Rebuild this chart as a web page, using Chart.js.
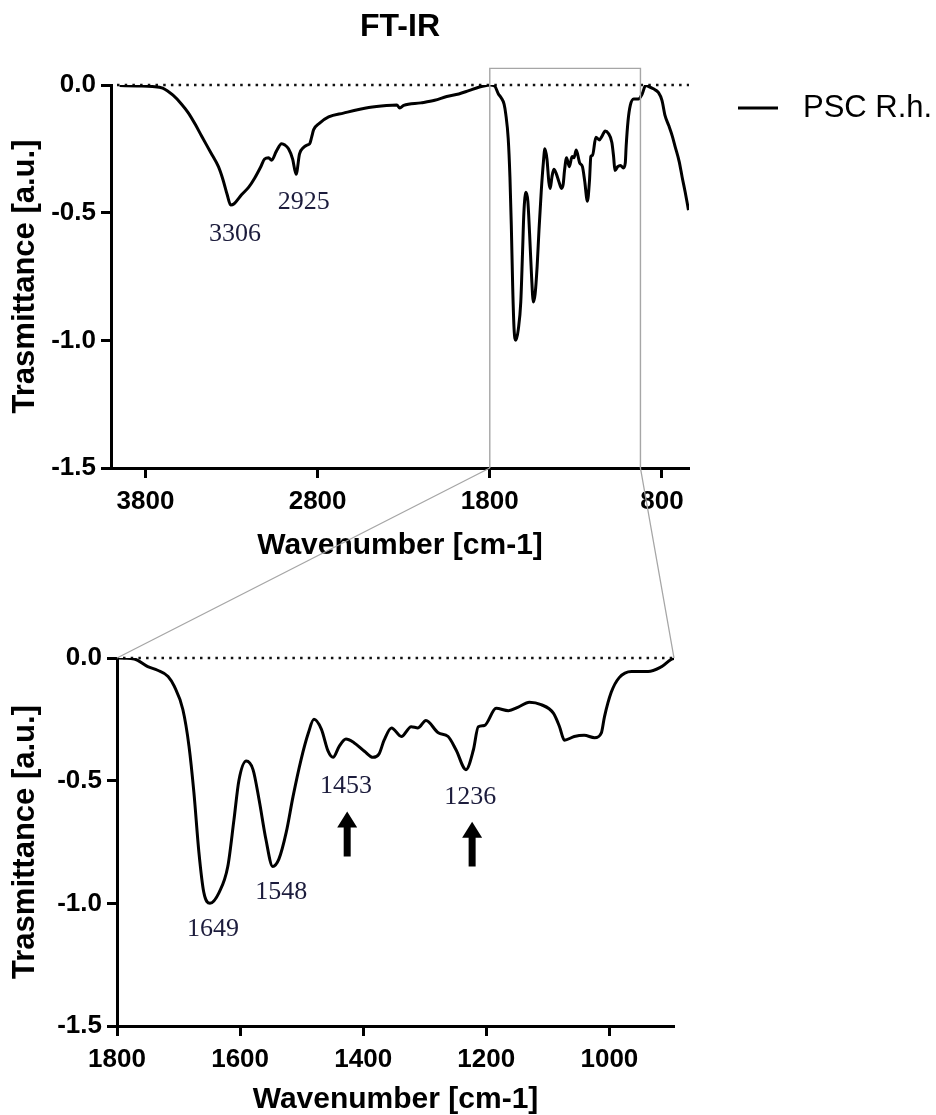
<!DOCTYPE html>
<html lang="en">
<head>
<meta charset="UTF-8">
<title>FT-IR</title>
<script src="https://cdn.jsdelivr.net/npm/chart.js@4"></script>
<style>
  body { margin: 0; background: #fff; }
  #wrap { position: relative; width: 936px; height: 1115px; }
  canvas { position: absolute; left: 0; }
  #topChart { top: 0; }
  #zoomChart { top: 580px; }
  #links { top: 0; pointer-events: none; }
</style>
</head>
<body>
<div id="wrap">
  <canvas id="topChart" width="936" height="580"></canvas>
  <canvas id="zoomChart" width="936" height="535"></canvas>
  <canvas id="links" width="936" height="1115"></canvas>
</div>
<script>
// spectrum (cm-1, a.u.)
const seriesName = 'PSC R.h.';
const wavenumbers = [
  3950, 3850, 3760, 3700, 3640, 3590, 3550, 3510, 3474, 3420, 3376, 3350, 3325, 3305, 3285,
  3242, 3200, 3166, 3130, 3108, 3085, 3067, 3040, 3009, 2990, 2969, 2945, 2925, 2905, 2882,
  2860, 2846, 2835, 2823, 2790, 2736, 2650, 2503, 2400, 2340, 2323, 2300, 2200, 2120, 2050,
  1980, 1922, 1860, 1820, 1800,
  1772, 1750, 1734, 1717, 1707, 1693, 1683, 1675, 1667, 1659, 1649, 1634, 1620, 1610, 1602,
  1590, 1579, 1569, 1558, 1547, 1537, 1525, 1514, 1501, 1489, 1480, 1468, 1457, 1449, 1439,
  1428, 1415, 1398, 1384, 1374, 1366, 1354, 1338, 1322, 1311, 1298, 1278, 1262, 1249, 1233,
  1221, 1213, 1203, 1184, 1164, 1148, 1130, 1111, 1091, 1081, 1073, 1057, 1041, 1024, 1013,
  1008, 997, 984, 964, 937, 915, 895,
  880, 850, 820, 800, 782, 760, 740, 724, 700, 683, 665, 646
];
const transmittance = [
  -0.002, -0.004, -0.006, -0.012, -0.04, -0.075, -0.11, -0.155, -0.2, -0.265, -0.32, -0.37, -0.43, -0.47, -0.465,
  -0.43, -0.40, -0.365, -0.32, -0.29, -0.285, -0.295, -0.26, -0.23, -0.235, -0.25, -0.29, -0.35, -0.27, -0.245,
  -0.235, -0.23, -0.205, -0.175, -0.15, -0.125, -0.11, -0.088, -0.08, -0.078, -0.09, -0.08, -0.07, -0.06, -0.045,
  -0.035, -0.022, -0.008, -0.002, 0.0,
  -0.004, -0.035, -0.05, -0.075, -0.115, -0.21, -0.36, -0.55, -0.79, -0.955, -1.0, -0.955, -0.85, -0.66, -0.5,
  -0.42, -0.455, -0.58, -0.74, -0.85, -0.82, -0.71, -0.565, -0.415, -0.305, -0.25, -0.29, -0.38, -0.405, -0.36,
  -0.33, -0.345, -0.38, -0.405, -0.39, -0.335, -0.285, -0.32, -0.28, -0.285, -0.255, -0.305, -0.32, -0.375, -0.455,
  -0.375, -0.28, -0.275, -0.205, -0.215, -0.2, -0.18, -0.19, -0.225, -0.28, -0.335, -0.32, -0.315, -0.325, -0.305,
  -0.24, -0.14, -0.08, -0.055, -0.055, -0.035, -0.002,
  -0.005, -0.015, -0.03, -0.06, -0.12, -0.16, -0.2, -0.24, -0.3, -0.36, -0.42, -0.49
];

const fullTicks = [3800, 2800, 1800, 800];
const zoomTicks = [1800, 1600, 1400, 1200, 1000];
const yTicks = [0, -0.5, -1.0, -1.5];

const fullRange = [4000, 643];
const zoomRange = [1800, 895];
const zoomBox = [1800, 925];   // grey frame on the full spectrum

// peak labels and arrows, placed in data units
const fullPeaks = [
  { text: '3306', x: 3280, y: -0.585 },
  { text: '2925', x: 2881, y: -0.457 }
];
const zoomPeaks = [
  { text: '1649', x: 1644, y: -1.106 },
  { text: '1548', x: 1533, y: -0.955 },
  { text: '1453', x: 1428, y: -0.524 },
  { text: '1236', x: 1226, y: -0.569 }
];
const zoomArrows = [
  { x: 1426, from: -0.809, to: -0.626 },
  { x: 1223, from: -0.85, to: -0.667 }
];

Chart.defaults.font.family = "'Liberation Sans', Arial, sans-serif";
Chart.defaults.color = '#000';

const points = wavenumbers.map((w, i) => ({ x: w, y: transmittance[i] }));

// zero line, frame, labels, arrows, title, legend
const extras = {
  id: 'extras',
  beforeDatasetsDraw(chart) {
    const { ctx, chartArea, scales } = chart;
    const y0 = scales.y.getPixelForValue(0);
    ctx.save();
    ctx.strokeStyle = '#111';
    ctx.lineWidth = 2.5;
    ctx.setLineDash([2.5, 5.2]);
    ctx.beginPath();
    ctx.moveTo(chartArea.left + 6, y0);
    ctx.lineTo(chartArea.right, y0);
    ctx.stroke();
    ctx.restore();
  },
  afterDraw(chart, args, opts) {
    const { ctx, chartArea, scales } = chart;
    const sx = scales.x, sy = scales.y;
    ctx.save();
    if (opts.box) {
      const x1 = sx.getPixelForValue(opts.box[0]);
      const x2 = sx.getPixelForValue(opts.box[1]);
      const yt = sy.getPixelForValue(0.065);
      ctx.strokeStyle = '#a6a6a6';
      ctx.lineWidth = 1.4;
      ctx.beginPath();
      ctx.moveTo(x1, chartArea.bottom);
      ctx.lineTo(x1, yt);
      ctx.lineTo(x2, yt);
      ctx.lineTo(x2, chartArea.bottom);
      ctx.stroke();
    }
    ctx.font = "26px 'Liberation Serif', 'Times New Roman', serif";
    ctx.fillStyle = '#1c1c3c';
    ctx.textAlign = 'center';
    ctx.textBaseline = 'middle';
    (opts.peaks || []).forEach(p => {
      ctx.fillText(p.text, sx.getPixelForValue(p.x), sy.getPixelForValue(p.y));
    });
    ctx.fillStyle = '#000';
    (opts.arrows || []).forEach(a => {
      const x = sx.getPixelForValue(a.x);
      const yb = sy.getPixelForValue(a.from);
      const yt = sy.getPixelForValue(a.to);
      ctx.beginPath();
      ctx.moveTo(x, yt);
      ctx.lineTo(x + 10, yt + 16);
      ctx.lineTo(x + 3.5, yt + 16);
      ctx.lineTo(x + 3.5, yb);
      ctx.lineTo(x - 3.5, yb);
      ctx.lineTo(x - 3.5, yt + 16);
      ctx.lineTo(x - 10, yt + 16);
      ctx.closePath();
      ctx.fill();
    });
    if (opts.title) {
      ctx.font = "bold 32px 'Liberation Sans', Arial, sans-serif";
      ctx.fillText(opts.title, (chartArea.left + chartArea.right) / 2, 27);
    }
    if (opts.legend) {
      const ly = chartArea.top + 23;
      ctx.strokeStyle = '#000';
      ctx.lineWidth = 3;
      ctx.beginPath();
      ctx.moveTo(chartArea.right + 49, ly);
      ctx.lineTo(chartArea.right + 89, ly);
      ctx.stroke();
      ctx.font = "31px 'Liberation Sans', Arial, sans-serif";
      ctx.textAlign = 'left';
      ctx.fillText(chart.data.datasets[0].label, chartArea.right + 114, ly);
    }
    ctx.restore();
  }
};

function axisStyle() {
  return {
    grid: { drawOnChartArea: false, drawTicks: true, tickLength: 10, tickWidth: 3, tickColor: '#000' },
    border: { display: true, color: '#000', width: 3 }
  };
}

function makeChart(id, range, xTicks, xHeight, yWidth, padding, titlePad, plugOpts) {
  return new Chart(document.getElementById(id), {
    type: 'line',
    data: {
      datasets: [{
        label: seriesName,
        data: points,
        borderColor: '#000',
        borderWidth: 3,
        pointRadius: 0,
        cubicInterpolationMode: 'monotone'
      }]
    },
    options: {
      responsive: false,
      animation: false,
      layout: { padding: padding },
      plugins: { legend: { display: false }, tooltip: { enabled: false }, extras: plugOpts },
      scales: {
        x: Object.assign(axisStyle(), {
          type: 'linear',
          reverse: true,
          min: range[1],
          max: range[0],
          afterBuildTicks: s => { s.ticks = xTicks.map(v => ({ value: v })); },
          afterFit: s => { s.height = xHeight; },
          ticks: { font: { size: 26, weight: 'bold' }, padding: 8, maxRotation: 0, callback: v => String(v) },
          title: { display: true, text: 'Wavenumber [cm-1]', font: { size: 30, weight: 'bold', lineHeight: 1 }, padding: { top: 0, bottom: titlePad } }
        }),
        y: Object.assign(axisStyle(), {
          min: -1.5,
          max: 0,
          afterBuildTicks: s => { s.ticks = yTicks.map(v => ({ value: v })); },
          afterFit: s => { s.width = yWidth; },
          ticks: { font: { size: 26, weight: 'bold' }, padding: 5, callback: v => v.toFixed(1) },
          title: { display: true, text: 'Trasmittance [a.u.]', font: { size: 31, weight: 'bold', lineHeight: 1 }, padding: { top: 10, bottom: 0 } }
        })
      }
    },
    plugins: [extras]
  });
}

const topChart = makeChart('topChart', fullRange, fullTicks, 112, 111,
  { top: 85, right: 247, bottom: 0, left: 0 }, 19,
  { box: zoomBox, peaks: fullPeaks, title: 'FT-IR', legend: true });

const zoomChart = makeChart('zoomChart', zoomRange, zoomTicks, 89, 117,
  { top: 78, right: 262, bottom: 0, left: 0 }, 0,
  { peaks: zoomPeaks, arrows: zoomArrows });

// grey lines joining the frame to the zoomed plot
(function drawLinks() {
  const ctx = document.getElementById('links').getContext('2d');
  const off = 580;
  const ax = topChart.chartArea.bottom;
  const zy = off + zoomChart.scales.y.getPixelForValue(0);
  ctx.strokeStyle = '#a6a6a6';
  ctx.lineWidth = 1.3;
  ctx.beginPath();
  ctx.moveTo(topChart.scales.x.getPixelForValue(zoomBox[0]), ax);
  ctx.lineTo(zoomChart.scales.x.getPixelForValue(zoomRange[0]), zy);
  ctx.moveTo(topChart.scales.x.getPixelForValue(zoomBox[1]), ax);
  ctx.lineTo(zoomChart.scales.x.getPixelForValue(zoomRange[1]), zy);
  ctx.stroke();
})();
</script>
</body>
</html>
